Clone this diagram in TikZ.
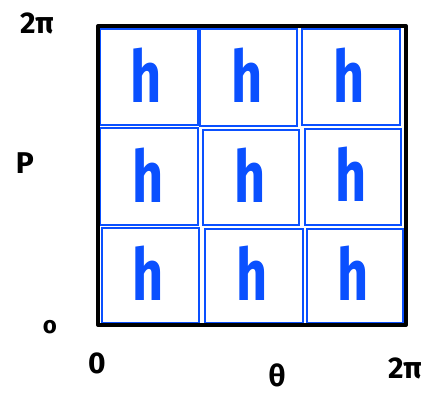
\documentclass[tikz,border=0pt]{standalone}
\usepackage{fontspec}
\setmainfont{Fira Sans}
\definecolor{penblue}{HTML}{0A50FF}
\begin{document}
\begin{tikzpicture}[x=1pt,y=-1pt,
  cell/.style={draw=penblue,line width=2.8pt},
  hlet/.style={text=penblue,font=\bfseries\fontsize{72}{72}\selectfont,inner sep=0pt,xscale=0.75},
  lab/.style={text=black,font=\bfseries\fontsize{30}{30}\selectfont,inner sep=0pt}]
\useasboundingbox (0,0) rectangle (432,395);
% blue cells
\draw[cell] (100,29) rectangle (198,125);
\draw[cell] (200,29) rectangle (297,126);
\draw[cell] (302,29) rectangle (400,125);
\draw[cell] (100,128) rectangle (198,225);
\draw[cell] (203,130) rectangle (299,225);
\draw[cell] (305,129) rectangle (401,225);
\draw[cell] (102,228) rectangle (199,323);
\draw[cell] (205,229) rectangle (303,323);
\draw[cell] (307,229) rectangle (403,323);
% outer square
\draw[line width=4pt,line join=round] (98,26) rectangle (406,325);
% h letters
\node[hlet] (h11) at (146,75) {h};
\node[hlet] (h12) at (247,75) {h};
\node[hlet] (h13) at (349,75) {h};
\node[hlet] (h21) at (148,175) {h};
\node[hlet] (h22) at (250,175) {h};
\node[hlet] (h23) at (351,174) {h};
\node[hlet] (h31) at (148,273) {h};
\node[hlet] (h32) at (252,273) {h};
\node[hlet] (h33) at (353,273) {h};
% labels
\node[lab] (ytop) at (37,23) {2π};
\node[lab] (ylab) at (25,163) {P};
\node[lab,font=\bfseries\fontsize{24}{24}\selectfont] (yzero) at (50,327) {o};
\node[lab] (xzero) at (97,363) {0};
\node[lab] (xlab) at (277,375) {θ};
\node[lab] (xtop) at (405,368) {2π};
\end{tikzpicture}
\end{document}
